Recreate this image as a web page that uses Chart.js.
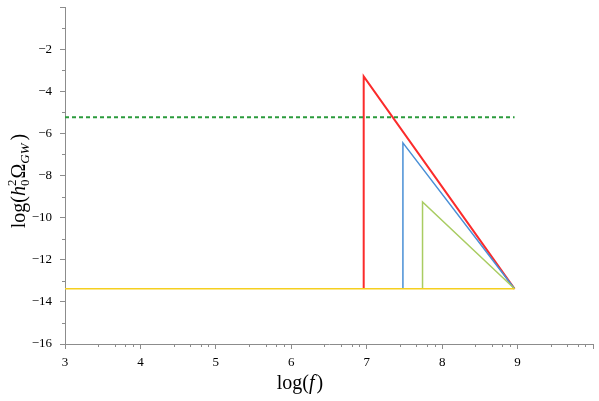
<!DOCTYPE html>
<html>
<head>
<meta charset="utf-8">
<script src="https://cdn.jsdelivr.net/npm/chart.js@4"></script>
<style>
  html, body { margin: 0; padding: 0; background: #fff; }
  canvas { display: block; }
</style>
</head>
<body>
<canvas id="gw" width="599" height="401"></canvas>
<script>
// data
const redX = [6.96, 6.96, 8.96];
const redY = [-13.38, -3.3, -13.38];
const blueX = [7.48, 7.48, 8.96];
const blueY = [-13.38, -6.45, -13.38];
const limeX = [7.74, 7.74, 8.96];
const limeY = [-13.38, -9.26, -13.38];
const floorX = [3, 8.96];
const floorY = [-13.38, -13.38];
const boundX = [3, 8.96];
const boundY = [-5.24, -5.24];

const xTicks = [3, 4, 5, 6, 7, 8, 9, 10];
const yTicks = [-16, -14, -12, -10, -8, -6, -4, -2, 0];
const xMinorOffsets = [0.44, 0.66, 0.8, 0.9];

const serif = "'Liberation Serif', 'DejaVu Serif', serif";
const axisGray = "#8c8c8c";

function pts(xs, ys) {
  return xs.map((x, i) => ({ x: x, y: ys[i] }));
}

// minor ticks + axis titles with sub/superscripts
const decor = {
  id: "decor",
  afterDraw(chart) {
    const ctx = chart.ctx;
    const xs = chart.scales.x, ys = chart.scales.y;
    const area = chart.chartArea;
    ctx.save();
    ctx.strokeStyle = axisGray;
    ctx.lineWidth = 1;
    ctx.beginPath();
    for (let k = 3; k < 10; k++) {
      xMinorOffsets.forEach(o => {
        const px = Math.round(xs.getPixelForValue(k + o)) + 0.5;
        ctx.moveTo(px, area.bottom);
        ctx.lineTo(px, area.bottom + 3);
      });
    }
    for (let v = -15; v < 0; v += 2) {
      const py = Math.round(ys.getPixelForValue(v)) + 0.5;
      ctx.moveTo(area.left, py);
      ctx.lineTo(area.left - 3, py);
    }
    ctx.stroke();

    ctx.fillStyle = "#000";
    ctx.textBaseline = "alphabetic";
    // x title: log(f)
    const big = "20px " + serif, bigIt = "italic 20px " + serif;
    const xParts = [["log(", big], ["f", bigIt], [")", big]];
    let w = 0;
    xParts.forEach(p => { ctx.font = p[1]; w += ctx.measureText(p[0]).width + (p[0] === "f" ? 2 : 0); });
    let cx = 300 - w / 2;
    xParts.forEach(p => {
      ctx.font = p[1];
      ctx.fillText(p[0], cx, 389);
      cx += ctx.measureText(p[0]).width + (p[0] === "f" ? 2 : 0);
    });

    // y title: log(h0^2 Omega_GW), rotated
    ctx.translate(25, 181);
    ctx.rotate(-Math.PI / 2);
    const small = "13px " + serif, smallIt = "italic 13px " + serif;
    ctx.font = big;
    const wLog = ctx.measureText("log(").width;
    ctx.font = bigIt;
    const wH = ctx.measureText("h").width;
    ctx.font = small;
    const wSup = ctx.measureText("2").width;
    ctx.font = big;
    const wOm = ctx.measureText("\u03A9").width;
    ctx.font = smallIt;
    const wGW = ctx.measureText("GW").width;
    ctx.font = big;
    const wCl = ctx.measureText(")").width;
    const total = wLog + wH + wSup + 1 + wOm + wGW + 3 + wCl;
    let tx = -total / 2;
    ctx.font = big; ctx.fillText("log(", tx, 0); tx += wLog;
    ctx.font = bigIt; ctx.fillText("h", tx, 0); tx += wH;
    ctx.font = small; ctx.fillText("2", tx, -9); ctx.fillText("0", tx, 4); tx += wSup + 1;
    ctx.font = big; ctx.fillText("\u03A9", tx, 0); tx += wOm;
    ctx.font = smallIt; ctx.fillText("GW", tx, 4); tx += wGW + 3;
    ctx.font = big; ctx.fillText(")", tx, 0);
    ctx.restore();
  }
};

new Chart(document.getElementById("gw"), {
  type: "line",
  data: {
    datasets: [
      { data: pts(floorX, floorY), borderColor: "#f5cf1f", borderWidth: 1.5 },
      { data: pts(boundX, boundY), borderColor: "#2b9b3c", borderWidth: 2, borderDash: [4, 3] },
      { data: pts(limeX, limeY), borderColor: "#a9cc62", borderWidth: 1.5 },
      { data: pts(blueX, blueY), borderColor: "#4a8fd6", borderWidth: 1.5 },
      { data: pts(redX, redY), borderColor: "#fb2b2b", borderWidth: 2 }
    ]
  },
  options: {
    responsive: false,
    devicePixelRatio: 1,
    animation: false,
    layout: { padding: { top: 7, right: 6, left: 0, bottom: 0 } },
    elements: { point: { radius: 0 }, line: { tension: 0, fill: false } },
    plugins: { legend: { display: false }, tooltip: { enabled: false } },
    scales: {
      x: {
        type: "linear",
        min: 3,
        max: 10,
        afterBuildTicks: s => { s.ticks = xTicks.map(v => ({ value: v })); },
        afterFit: s => { s.height = 57; s.paddingLeft = 0; s.paddingRight = 0; },
        ticks: {
          color: "#000",
          font: { family: serif, size: 13 },
          padding: 6,
          maxRotation: 0,
          callback: v => (v < 10 ? String(v) : "")
        },
        grid: { drawOnChartArea: false, tickLength: 5, color: axisGray },
        border: { color: axisGray }
      },
      y: {
        type: "linear",
        min: -16,
        max: 0,
        afterBuildTicks: s => { s.ticks = yTicks.map(v => ({ value: v })); },
        afterFit: s => { s.width = 65; s.paddingTop = 0; s.paddingBottom = 0; },
        ticks: {
          color: "#000",
          font: { family: serif, size: 13 },
          padding: 8,
          callback: v => (v === 0 ? "" : "\u2212" + Math.abs(v))
        },
        grid: { drawOnChartArea: false, tickLength: 5, color: axisGray },
        border: { color: axisGray }
      }
    }
  },
  plugins: [decor]
});
</script>
</body>
</html>
